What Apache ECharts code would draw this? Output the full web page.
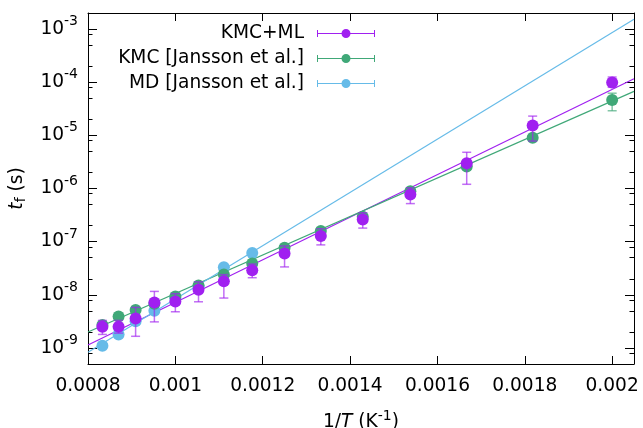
<!DOCTYPE html>
<html>
<head>
<meta charset="utf-8">
<title>Failure time vs inverse temperature</title>
<script src="https://cdn.jsdelivr.net/npm/echarts@6/dist/echarts.min.js"></script>
<style>
  html, body { margin: 0; padding: 0; background: #fff; }
  #chart { width: 643px; height: 428px; }
</style>
</head>
<body>
<div id="chart"></div>
<script>
// Inverse temperature 1/T (K^-1) of the simulated points
const invT = [0.000833, 0.000870, 0.000909, 0.000952, 0.001000, 0.001053, 0.001111,
              0.001176, 0.001250, 0.001333, 0.001429, 0.001538, 0.001667, 0.001818, 0.002000];
const invTMd = [0.000833, 0.000870, 0.000909, 0.000952, 0.001000, 0.001053, 0.001111, 0.001176];

// KMC+ML: failure time t_f (s) with lower / upper error bounds
const tKmcMl   = [2.5e-9, 2.5e-9, 3.6e-9, 7.2e-9, 7.5e-9, 1.24e-8, 1.8e-8, 2.9e-8, 6.0e-8, 1.28e-7, 2.6e-7, 7.7e-7, 3.0e-6, 1.53e-5, 9.9e-5];
const loKmcMl  = [1.8e-9, 1.9e-9, 1.66e-9, 3.1e-9, 4.8e-9, 7.4e-9, 8.7e-9, 2.1e-8, 3.35e-8, 8.7e-8, 1.8e-7, 5.2e-7, 1.2e-6, 7.8e-6, 8.0e-5];
const hiKmcMl  = [3.3e-9, 3.3e-9, 5.8e-9, 1.16e-8, 1.05e-8, 1.75e-8, 2.4e-8, 3.8e-8, 8.3e-8, 1.75e-7, 3.5e-7, 1.03e-6, 4.8e-6, 2.3e-5, 1.25e-4];

// KMC [Jansson et al.]
const tKmc  = [2.7e-9, 3.9e-9, 5.2e-9, 6.8e-9, 9.3e-9, 1.5e-8, 2.4e-8, 3.9e-8, 7.7e-8, 1.58e-7, 2.95e-7, 8.9e-7, 2.6e-6, 9.0e-6, 4.6e-5];
const loKmc = [2.4e-9, 3.5e-9, 4.7e-9, 6.1e-9, 8.4e-9, 1.35e-8, 2.15e-8, 3.5e-8, 6.9e-8, 1.42e-7, 2.65e-7, 8.0e-7, 2.3e-6, 8.1e-6, 2.9e-5];
const hiKmc = [3.0e-9, 4.3e-9, 5.7e-9, 7.5e-9, 1.03e-8, 1.65e-8, 2.65e-8, 4.3e-8, 8.5e-8, 1.75e-7, 3.25e-7, 9.8e-7, 2.9e-6, 9.9e-6, 6.2e-5];

// MD [Jansson et al.]
const tMd  = [1.1e-9, 1.8e-9, 3.2e-9, 5.0e-9, 8.6e-9, 1.45e-8, 3.3e-8, 6.1e-8];
const loMd = [1.0e-9, 1.65e-9, 2.95e-9, 4.6e-9, 7.9e-9, 1.33e-8, 3.03e-8, 5.6e-8];
const hiMd = [1.2e-9, 1.95e-9, 3.5e-9, 5.45e-9, 9.4e-9, 1.58e-8, 3.6e-8, 6.65e-8];

// Arrhenius fit lines: values at the two ends of the 1/T range
const fitX     = [0.0008, 0.00205];
const fitKmcMl = [1.14e-9, 1.16e-4];
const fitKmc   = [2.0e-9, 6.7e-5];
const fitMd    = [8.3e-10, 1.53e-3];

// Axis ticks
const xTicks = [0.0008, 0.001, 0.0012, 0.0014, 0.0016, 0.0018, 0.002];
const yExponents = [-9, -8, -7, -6, -5, -4, -3];
const yMinorMantissas = [2, 5, 8];

const names = ['KMC+ML', 'KMC [Jansson et al.]', 'MD [Jansson et al.]'];
const colors = ['#a020f0', '#40a878', '#66bbe8'];
const barColors = ['rgba(160,32,240,0.65)', 'rgba(64,168,120,0.65)', 'rgba(102,187,232,0.65)'];

const FONT = 'DejaVu Sans';
const FS = 18.6;
const X_MIN = 0.0008, X_MAX = 0.00205;
const Y_MIN = 5e-10, Y_MAX = 2e-3;

const yMajor = yExponents.map(e => Math.pow(10, e));
const yMinor = [];
for (let e = -10; e <= -3; e++) {
  yMinorMantissas.forEach(m => {
    const v = m * Math.pow(10, e);
    if (v > Y_MIN && v < Y_MAX) yMinor.push(v);
  });
}

function errorBarItem(params, api) {
  const x = api.value(0);
  const lo = api.coord([x, api.value(1)]);
  const hi = api.coord([x, api.value(2)]);
  const w = 4.5;
  const style = { stroke: api.visual('color'), lineWidth: 1.5 };
  return {
    type: 'group',
    children: [
      { type: 'line', shape: { x1: lo[0], y1: lo[1], x2: hi[0], y2: hi[1] }, style },
      { type: 'line', shape: { x1: lo[0] - w, y1: lo[1], x2: lo[0] + w, y2: lo[1] }, style },
      { type: 'line', shape: { x1: hi[0] - w, y1: hi[1], x2: hi[0] + w, y2: hi[1] }, style }
    ]
  };
}

const groups = [
  { x: invT,   t: tKmcMl, lo: loKmcMl, hi: hiKmcMl, fit: fitKmcMl },
  { x: invT,   t: tKmc,   lo: loKmc,   hi: hiKmc,   fit: fitKmc },
  { x: invTMd, t: tMd,    lo: loMd,    hi: hiMd,    fit: fitMd }
];

// stacking: MD at the bottom, KMC+ML on top
const zBase = [20, 12, 4];
const series = [];
groups.forEach((g, k) => {
  series.push({
    type: 'scatter', name: names[k],
    data: g.x.map((v, i) => [v, g.t[i]]),
    symbol: 'circle', symbolSize: 12,
    itemStyle: { color: colors[k], opacity: 1 },
    z: zBase[k] + 2,
    silent: true
  });
});
groups.forEach((g, k) => {
  series.push({
    type: 'custom', name: names[k],
    data: g.x.map((v, i) => [v, g.lo[i], g.hi[i]]),
    encode: { x: 0, y: [1, 2] },
    renderItem: errorBarItem,
    itemStyle: { color: barColors[k] },
    z: zBase[k] + 1,
    silent: true
  });
  series.push({
    type: 'line', name: names[k],
    data: fitX.map((v, i) => [v, g.fit[i]]),
    symbol: 'none', showSymbol: false,
    lineStyle: { color: colors[k], width: 1.2 },
    itemStyle: { color: colors[k] },
    z: 2,
    silent: true
  });
});

// error-bar sample with a dot, used as legend key
const legendIcon = 'path://M0,4 L58,4 L58,5 L0,5 Z M0,1 L1,1 L1,8 L0,8 Z M57,1 L58,1 L58,8 L57,8 Z ' +
                   'M24.5,4.5 A4.5,4.5 0 1,1 33.5,4.5 A4.5,4.5 0 1,1 24.5,4.5 Z';

const axisLineStyle = { color: '#000', width: 1 };
const supRich = {
  b: { fontSize: FS, fontFamily: FONT, color: '#000' },
  s: { fontSize: 14, fontFamily: FONT, color: '#000', padding: [0, 0, 15, 0] }
};

function xAxisDef(pos) {
  const bottom = pos === 'bottom';
  return {
    type: 'value', position: pos, min: X_MIN, max: X_MAX,
    axisLine: { show: true, onZero: false, lineStyle: axisLineStyle },
    axisTick: { show: true, inside: true, length: 8, customValues: xTicks, lineStyle: axisLineStyle },
    axisLabel: bottom ? {
      show: true, customValues: xTicks, margin: 13,
      fontSize: FS, fontFamily: FONT, color: '#000',
      formatter: v => String(parseFloat(Number(v).toPrecision(6)))
    } : { show: false },
    splitLine: { show: false },
    minorTick: { show: false },
    name: bottom ? '{n|1/}{i|T}{n| (K}{s|-1}{n|)}' : '',
    nameLocation: 'middle', nameGap: 45,
    nameTextStyle: {
      rich: {
        n: { fontSize: FS, fontFamily: FONT, color: '#000' },
        i: { fontSize: FS, fontFamily: FONT, fontStyle: 'italic', color: '#000' },
        s: { fontSize: 14, fontFamily: FONT, color: '#000', padding: [0, 0, 12, 0] }
      }
    }
  };
}

function yAxisDef(pos, major) {
  const left = pos === 'left';
  return {
    type: 'log', logBase: 10, position: pos, min: Y_MIN, max: Y_MAX,
    axisLine: { show: major, onZero: false, lineStyle: axisLineStyle },
    axisTick: { show: true, inside: true, length: major ? 9 : 4.5,
                customValues: major ? yMajor : yMinor, lineStyle: axisLineStyle },
    axisLabel: (left && major) ? {
      show: true, customValues: yMajor, margin: 10,
      formatter: v => '{b|10}{s|' + Math.round(Math.log10(v)) + '}',
      rich: supRich
    } : { show: false },
    splitLine: { show: false },
    minorTick: { show: false },
    minorSplitLine: { show: false },
    name: (left && major) ? '{i|t}{f|f}{n| (s)}' : '',
    nameLocation: 'middle', nameGap: 60, nameRotate: 90,
    nameTextStyle: {
      rich: {
        n: { fontSize: FS, fontFamily: FONT, color: '#000' },
        i: { fontSize: FS, fontFamily: FONT, fontStyle: 'italic', color: '#000' },
        f: { fontSize: 14, fontFamily: FONT, color: '#000', padding: [8, 0, 0, 0] }
      }
    }
  };
}

const chart = echarts.init(document.getElementById('chart'), null, { renderer: 'canvas' });
chart.setOption({
  animation: false,
  backgroundColor: '#fff',
  textStyle: { fontFamily: FONT },
  grid: { left: 88, right: 9, top: 13, bottom: 64, containLabel: false, outerBoundsMode: 'none' },
  legend: {
    orient: 'vertical', right: 268, top: 24, padding: 0,
    align: 'right', itemWidth: 58, itemHeight: 9, itemGap: 6,
    selectedMode: false,
    textStyle: { fontSize: FS, fontFamily: FONT, color: '#000', lineHeight: 18, padding: [0, 8, 0, 0] },
    data: names.map(n => ({ name: n, icon: legendIcon }))
  },
  xAxis: [xAxisDef('bottom'), xAxisDef('top')],
  yAxis: [yAxisDef('left', true), yAxisDef('left', false), yAxisDef('right', true), yAxisDef('right', false)],
  series: series
});
</script>
</body>
</html>
